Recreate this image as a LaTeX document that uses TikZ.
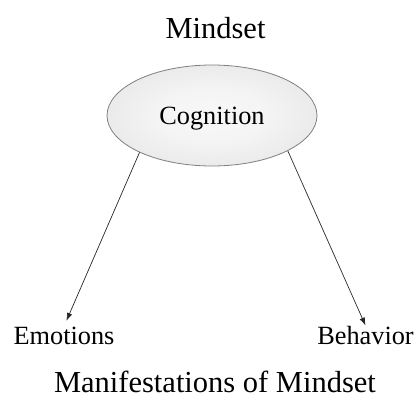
\documentclass[tikz,border=0pt]{standalone}
\usepackage{fontspec}
\setmainfont{Liberation Serif}
\usetikzlibrary{shapes.geometric,arrows.meta}
\pgfdeclareradialshading{ellshade}{\pgfpoint{0bp}{0bp}}{color(0bp)=(white!97!black); color(12bp)=(white!96!black); color(35bp)=(white!89!black); color(50bp)=(white!84!black); color(75bp)=(white!80!black)}
\tikzset{
  bigtext/.style={font=\fontsize{30.5}{36}\selectfont, inner sep=0pt, anchor=base},
  labtext/.style={font=\fontsize{26.3}{32}\selectfont, inner sep=0pt, anchor=base},
  cogbox/.style={ellipse, draw=black!50, line width=0.8pt, shading=ellshade,
    minimum width=210pt, minimum height=101pt, inner sep=0pt, text depth=0pt,
    font=\fontsize{26.3}{32}\selectfont},
  arr/.style={-{Latex[length=8pt,width=5.5pt]}, draw=black!85, line width=0.7pt}
}
\begin{document}
\begin{tikzpicture}[x=1pt,y=-1pt]
\useasboundingbox (0,0) rectangle (417,396);
\node[bigtext] (mind) at (215.5,38) {Mindset};
\node[cogbox] (cog) at (212,115.5) {Cognition};
\node[labtext] (emo) at (64,344) {Emotions};
\node[labtext] (beh) at (365.5,344) {Behavior};
\node[bigtext] (man) at (215,392) {Manifestations of Mindset};
\draw[arr, shorten >=6pt] (cog.207) -- (emo.north);
\draw[arr] (cog.335) -- (beh.north);
\end{tikzpicture}
\end{document}
